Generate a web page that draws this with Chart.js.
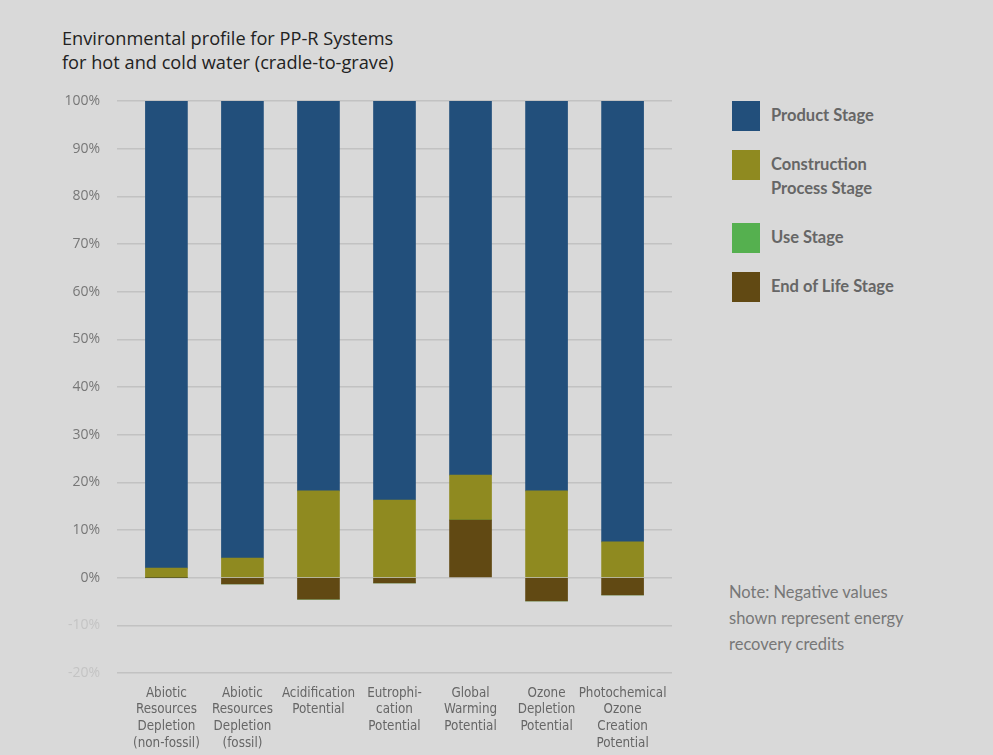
<!DOCTYPE html>
<html>
<head>
<meta charset="utf-8">
<script src="https://cdn.jsdelivr.net/npm/chart.js@4"></script>
<style>
  html, body { margin: 0; padding: 0; background: #d9d9d9; }
  #wrap { position: relative; width: 993px; height: 755px; overflow: hidden; background: #d9d9d9; }
  #title { position: absolute; left: 62px; top: 26px; font-family: "Open Sans", sans-serif; font-size: 18.2px; line-height: 24px; color: #222; }
  #chartBox { position: absolute; left: 0; top: 0; width: 700px; height: 755px; }
  #legend { position: absolute; left: 732px; top: 101px; font-family: Lato, sans-serif; font-weight: 700; font-size: 16.5px; color: #666; }
  .item { position: relative; padding-left: 39px; line-height: 24px; min-height: 30px; margin-bottom: 19px; }
  .item:nth-child(2) { margin-bottom: 23px; }
  .sw { position: absolute; left: 0; top: 0; width: 28px; height: 30px; }
  .item span { display: block; padding-top: 2px; }
  #note { position: absolute; left: 729px; top: 579px; font-family: Lato, sans-serif; font-size: 16.5px; line-height: 26px; color: #777; }
</style>
</head>
<body>
<div id="wrap">
  <div id="title">Environmental profile for PP-R Systems<br>for hot and cold water (cradle-to-grave)</div>
  <div id="chartBox"><canvas id="chart"></canvas></div>
  <div id="legend"></div>
  <div id="note">Note: Negative values<br>shown represent energy<br>recovery credits</div>
</div>
<script>
const categories = [
  ['Abiotic', 'Resources', 'Depletion', '(non-fossil)'],
  ['Abiotic', 'Resources', 'Depletion', '(fossil)'],
  ['Acidification', 'Potential'],
  ['Eutrophi-', 'cation', 'Potential'],
  ['Global', 'Warming', 'Potential'],
  ['Ozone', 'Depletion', 'Potential'],
  ['Photochemical', 'Ozone', 'Creation', 'Potential']
];
const productStage = [98.0, 95.9, 81.8, 83.7, 78.5, 81.8, 92.5];
const constructionStage = [2.0, 4.1, 18.2, 16.3, 9.4, 18.2, 7.5];
const useStage = [0, 0, 0, 0, 0, 0, 0];
const endOfLifeStage = [0, -1.3, -4.5, -1.1, 12.1, -4.9, -3.6];
const yTicks = [100, 90, 80, 70, 60, 50, 40, 30, 20, 10, 0, -10, -20];

// legend order (top to bottom)
const stages = [
  { name: 'Product Stage', lines: ['Product Stage'], color: '#224f7b', data: productStage },
  { name: 'Construction Process Stage', lines: ['Construction', 'Process Stage'], color: '#8f8a20', data: constructionStage },
  { name: 'Use Stage', lines: ['Use Stage'], color: '#55b04f', data: useStage },
  { name: 'End of Life Stage', lines: ['End of Life Stage'], color: '#614913', data: endOfLifeStage }
];

const legend = document.getElementById('legend');
stages.forEach(s => {
  const item = document.createElement('div');
  item.className = 'item';
  item.innerHTML = `<div class="sw" style="background:${s.color}"></div><span>${s.lines.join('<br>')}</span>`;
  legend.appendChild(item);
});

// stacking from the bottom: end of life first, product last
const datasets = stages.slice().reverse().map(s => ({
  label: s.name,
  data: s.data.map((v, i) => ({ x: i, y: v })),
  backgroundColor: s.color,
  borderWidth: 0,
  barThickness: 42
}));

new Chart(document.getElementById('chart'), {
  type: 'bar',
  data: { datasets },
  options: {
    responsive: true,
    maintainAspectRatio: false,
    animation: false,
    layout: { padding: { top: 101, right: 28, bottom: 0, left: 0 } },
    plugins: { legend: { display: false }, tooltip: { enabled: false } },
    scales: {
      x: {
        type: 'linear',
        stacked: true,
        offset: false,
        min: -0.65,
        max: 6.65,
        afterFit: s => { s.height = 82; },
        afterBuildTicks: s => { s.ticks = categories.map((c, i) => ({ value: i })); },
        grid: { display: false, offset: false },
        border: { display: false },
        ticks: {
          autoSkip: false,
          maxRotation: 0,
          padding: 4,
          color: '#666',
          font: { family: '"Liberation Sans Narrow", "DejaVu Sans Condensed", sans-serif', size: 13.3, lineHeight: 1.25 },
          callback: v => categories[v]
        }
      },
      y: {
        stacked: true,
        min: -20,
        max: 100,
        afterFit: s => { s.width = 117; },
        afterBuildTicks: s => { s.ticks = yTicks.map(v => ({ value: v })); },
        grid: {
          color: '#c2c2c2',
          lineWidth: 1.5,
          drawTicks: false
        },
        border: { display: false },
        ticks: {
          padding: 17,
          color: ctx => ctx.tick.value < 0 ? '#c4c4c4' : '#777',
          font: { family: '"Open Sans", sans-serif', size: 14 },
          callback: v => v + '%'
        }
      }
    }
  }
});
</script>
</body>
</html>
